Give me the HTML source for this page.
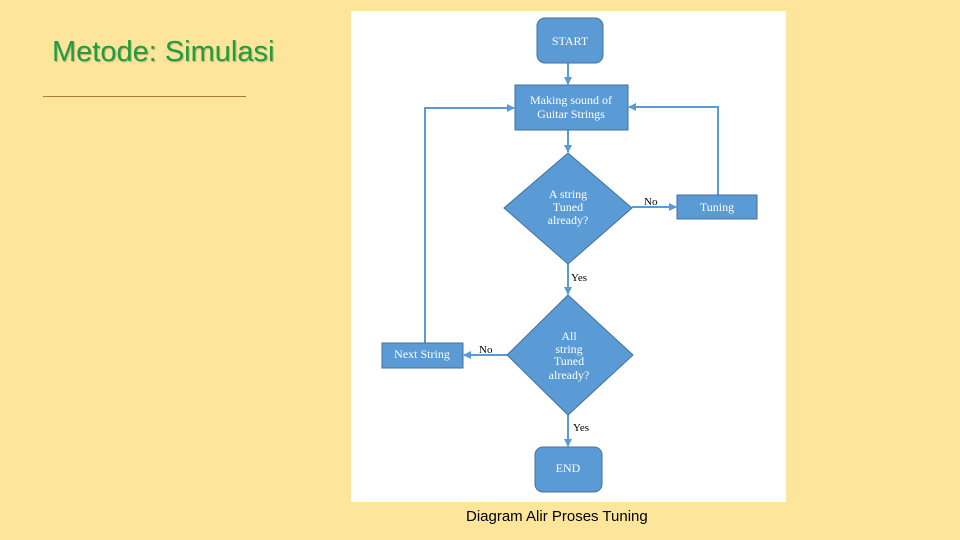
<!DOCTYPE html>
<html><head><meta charset="utf-8"><style>
body{margin:0;width:960px;height:540px;background:#fee59c;position:relative;overflow:hidden;font-family:"Liberation Sans",sans-serif}
.t{position:absolute;left:52px;top:36px;font-size:29px;color:#1e9e3e;text-shadow:1px 1px 1px rgba(0,0,0,0.25)}
.hr{position:absolute;left:43px;top:96px;width:203px;height:1px;background:#b07a30}
.cap{position:absolute;left:466px;top:508px;font-size:15px;color:#000}
svg{position:absolute;left:0;top:0}
</style></head><body>
<div class="t">Metode: Simulasi</div>
<div class="hr"></div>
<svg width="960" height="540" font-family="Liberation Serif, serif">
<defs><marker id="a" markerWidth="8" markerHeight="8" refX="7" refY="4" orient="auto" markerUnits="userSpaceOnUse"><path d="M0,0 L8,4 L0,8 z" fill="#5b9bd5"/></marker></defs>
<rect x="351" y="11" width="435" height="491" fill="#fff"/>
<g stroke="#5b9bd5" stroke-width="2" fill="none">
<line x1="568" y1="63" x2="568" y2="84" marker-end="url(#a)"/>
<line x1="568" y1="130" x2="568" y2="152" marker-end="url(#a)"/>
<line x1="632" y1="207" x2="676" y2="207" marker-end="url(#a)"/>
<polyline points="718,195 718,107 629,107" marker-end="url(#a)"/>
<line x1="568" y1="264" x2="568" y2="294" marker-end="url(#a)"/>
<line x1="507" y1="355" x2="464" y2="355" marker-end="url(#a)"/>
<polyline points="425,343 425,108 514,108" marker-end="url(#a)"/>
<line x1="568" y1="415" x2="568" y2="446" marker-end="url(#a)"/>
</g>
<g fill="#5b9bd5" stroke="#41719c" stroke-width="1">
<rect x="537" y="18" width="66" height="45" rx="8"/>
<rect x="515" y="85" width="113" height="45"/>
<polygon points="568,153 632,208 568,264 504,208"/>
<rect x="677" y="195" width="80" height="24"/>
<polygon points="568,295 633,355 568,415 507,355"/>
<rect x="382" y="343" width="81" height="25"/>
<rect x="535" y="447" width="67" height="45" rx="8"/>
</g>
<g fill="#fff" font-size="12" text-anchor="middle">
<text x="570" y="45">START</text>
<text x="571" y="104">Making sound of</text>
<text x="571" y="118">Guitar Strings</text>
<text x="568" y="198">A string</text>
<text x="568" y="211">Tuned</text>
<text x="568" y="224">already?</text>
<text x="717" y="211">Tuning</text>
<text x="569" y="340">All</text>
<text x="569" y="353">string</text>
<text x="569" y="365">Tuned</text>
<text x="569" y="379">already?</text>
<text x="422" y="358">Next String</text>
<text x="568" y="472">END</text>
</g>
<g fill="#000" font-size="11">
<text x="644" y="205">No</text>
<text x="571" y="281">Yes</text>
<text x="479" y="353">No</text>
<text x="573" y="431">Yes</text>
</g>
</svg>
<div class="cap">Diagram Alir Proses Tuning</div>
</body></html>
